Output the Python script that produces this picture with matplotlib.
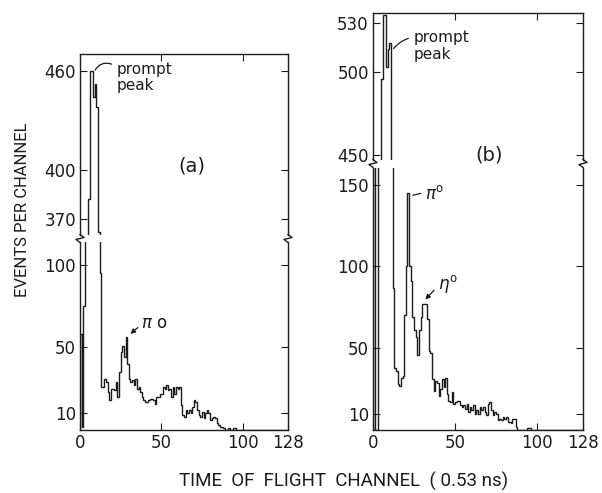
import numpy as np
import matplotlib.pyplot as plt
from matplotlib.lines import Line2D

plt.rcParams['font.family'] = ['DejaVu Sans']

# canais de tempo de voo (0..128) e contagens
edges = np.arange(129)

counts_a = [58, 2, 75, 250, 250, 382, 460, 460, 444, 452,
            438, 362, 95, 26, 26, 31, 29, 23, 18, 25,
            25, 24, 29, 20, 35, 47, 51, 44, 56, 40,
            31, 29, 30, 27, 31, 25, 26, 23, 20, 18,
            17, 17, 18, 19, 19, 18, 16, 20, 20, 22,
            22, 26, 25, 27, 24, 25, 20, 26, 22, 26,
            25, 26, 15, 9, 8, 12, 10, 12, 10, 14,
            18, 17, 12, 9, 8, 11, 7, 10, 12, 10,
            6, 7, 8, 7, 4, 3, 2, 2, 1, 0,
            0, 1, 0, 0, 1, 1, 0] + [0] * 31

counts_b = [250, 0, 0, 300, 300, 496, 535, 535, 503, 514,
            518, 300, 87, 38, 36, 28, 27, 32, 33, 70,
            100, 145, 100, 91, 69, 61, 57, 46, 61, 69,
            77, 77, 77, 68, 48, 47, 31, 24, 30, 29,
            21, 25, 31, 26, 32, 22, 18, 17, 23, 16,
            17, 18, 18, 15, 14, 15, 13, 16, 11, 14,
            12, 15, 10, 12, 10, 14, 12, 14, 11, 9,
            16, 17, 12, 9, 11, 10, 6, 7, 6, 8,
            7, 8, 5, 5, 4, 7, 7, 2, 0, 0,
            0, 0, 0, 0, 1, 1] + [0] * 32

x_ticks = [0, 50, 100, 128]
yticks_a_lo = [10, 50, 100]
yticks_a_hi = [370, 400, 460]
yticks_b_lo = [10, 50, 100, 150]
yticks_b_hi = [450, 500, 530]

W, H = 602, 493
fig = plt.figure(figsize=(W / 100, H / 100), dpi=100)
cor = '#1c1c1c'


def eixo(left, right, top, bottom):
    return fig.add_axes([left / W, (H - bottom) / H, (right - left) / W, (bottom - top) / H])


def quebra(x, yb):
    # pequeno zig-zag da quebra do eixo, em pixels da figura
    xs = np.array([x, x + 4, x - 4, x]) / W
    ys = (H - np.array([yb - 4, yb - 1, yb + 1, yb + 4])) / H
    fig.add_artist(Line2D(xs, ys, color=cor, lw=1.0, transform=fig.transFigure))


def painel(left, right, top, brk, bottom, counts, lim_lo, lim_hi, t_lo, t_hi):
    ax_hi = eixo(left, right, top, brk - 4)
    ax_lo = eixo(left, right, brk + 4, bottom)
    for ax in (ax_hi, ax_lo):
        ax.stairs(counts, edges, color=cor, lw=1.0)
        ax.set_xlim(0, 128)
        ax.tick_params(direction='in', length=5, width=0.8, labelsize=12,
                       right=True, colors=cor, pad=3)
        for s in ax.spines.values():
            s.set_color(cor)
            s.set_linewidth(1.0)
    ax_hi.set_ylim(*lim_hi)
    ax_lo.set_ylim(*lim_lo)
    ax_hi.set_yticks(t_hi)
    ax_lo.set_yticks(t_lo)
    ax_hi.spines['bottom'].set_visible(False)
    ax_lo.spines['top'].set_visible(False)
    ax_hi.set_xticks([50, 100])
    ax_hi.tick_params(bottom=False, labelbottom=False, top=True)
    ax_lo.set_xticks(x_ticks)
    ax_lo.tick_params(top=False)
    quebra(left, brk)
    quebra(right, brk)
    return ax_hi, ax_lo


a_hi, a_lo = painel(80, 288, 54, 238.5, 430, counts_a, (0, 113.3), (360.6, 470.3),
                    yticks_a_lo, yticks_a_hi)
b_hi, b_lo = painel(373, 583, 13, 163.5, 430, counts_b, (0, 160.4), (447, 536),
                    yticks_b_lo, yticks_b_hi)

# anotações
a_hi.text(22.8, 456, 'prompt\npeak', fontsize=11, ha='left', va='center',
          linespacing=1.1, color=cor)
a_hi.annotate('', xy=(8.5, 459), xytext=(21, 463.5),
              arrowprops=dict(arrowstyle='-', color=cor, lw=0.9,
                              connectionstyle='arc3,rad=0.5'))
b_hi.text(25, 516, 'prompt\npeak', fontsize=11, ha='left', va='center',
          linespacing=1.1, color=cor)
b_hi.annotate('', xy=(11.6, 513), xytext=(23.2, 521),
              arrowprops=dict(arrowstyle='-', color=cor, lw=0.9,
                              connectionstyle='arc3,rad=0.2'))

a_lo.text(37.5, 64.5, r'$\pi$ o', fontsize=12, ha='left', va='center', color=cor)
a_lo.annotate('', xy=(29.7, 57), xytext=(36.9, 63),
              arrowprops=dict(arrowstyle='-|>', color=cor, lw=0.9, mutation_scale=7))
b_lo.text(31.5, 144, r'$\pi^{\rm o}$', fontsize=12, ha='left', va='center', color=cor)
b_lo.annotate('', xy=(22.6, 143), xytext=(30.7, 145),
              arrowprops=dict(arrowstyle='-', color=cor, lw=0.9))
b_lo.text(39.5, 89, r'$\eta^{\rm o}$', fontsize=12, ha='left', va='center', color=cor)
b_lo.annotate('', xy=(30.7, 78.5), xytext=(38.4, 86.6),
              arrowprops=dict(arrowstyle='-|>', color=cor, lw=0.9, mutation_scale=7))

fig.text(192 / W, (H - 166) / H, '(a)', fontsize=14, ha='center', va='center', color=cor)
fig.text(489 / W, (H - 155) / H, '(b)', fontsize=14, ha='center', va='center', color=cor)

fig.text(23 / W, (H - 210) / H, 'EVENTS PER CHANNEL', rotation=90, fontsize=12,
         family='Roboto', ha='center', va='center', color=cor)
fig.text(344 / W, (H - 481) / H, 'TIME  OF  FLIGHT  CHANNEL  ( 0.53 ns)', fontsize=13.5,
         family='Roboto', ha='center', va='center', color=cor)

fig.savefig('out.png', dpi=100)
